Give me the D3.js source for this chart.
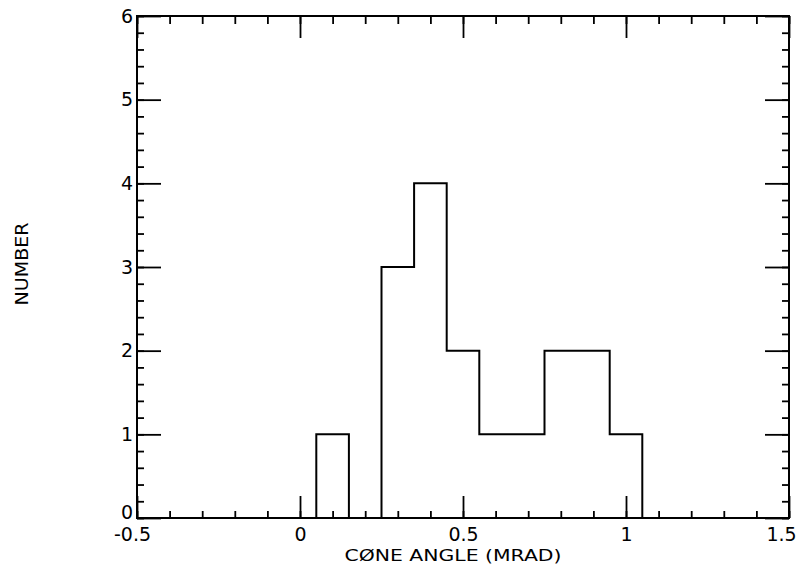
<!DOCTYPE html>
<html>
<head>
<meta charset="utf-8">
<script src="https://cdn.jsdelivr.net/npm/d3@7"></script>
<style>
  body { margin: 0; background: #fff; }
  text { font-family: "DejaVu Sans", sans-serif; fill: #000; }
</style>
</head>
<body>
<svg id="chart" width="803" height="573"></svg>
<script>
// bin edges (mrad) and counts per bin
var binEdges = [0.05, 0.15, 0.25, 0.35, 0.45, 0.55, 0.65, 0.75, 0.85, 0.95, 1.05];
var binCounts = [1, 0, 3, 4, 2, 1, 1, 2, 2, 1];

var xTickValues = [-0.5, 0, 0.5, 1, 1.5];
var xTickLabels = ["-0.5", "0", "0.5", "1", "1.5"];
var yTickValues = [0, 1, 2, 3, 4, 5, 6];

var xTitle = "C\u00d8NE ANGLE (MRAD)";
var yTitle = "NUMBER";

var margin = {top: 16, right: 14, bottom: 55, left: 137};
var width = 803 - margin.left - margin.right;
var height = 573 - margin.top - margin.bottom;

var svg = d3.select("#chart");
var g = svg.append("g").attr("transform", "translate(" + margin.left + "," + margin.top + ")");

var x = d3.scaleLinear().domain([-0.5, 1.5]).range([0, width]);
var y = d3.scaleLinear().domain([0, 6]).range([height, 0]);

var xMinor = d3.range(-5, 16).map(function(i) { return i / 10; });
var yMinor = d3.range(0, 31).map(function(i) { return i / 5; });

function styleAxis(sel) {
    sel.select(".domain").remove();
    sel.selectAll("line").attr("stroke", "#000").attr("stroke-width", 1.8);
}

// bottom axis: minor + major ticks pointing inward
g.append("g").attr("transform", "translate(0," + height + ")")
    .call(d3.axisBottom(x).tickValues(xMinor).tickSize(-7).tickFormat(""))
    .call(styleAxis);
var bottom = g.append("g").attr("transform", "translate(0," + height + ")")
    .call(d3.axisBottom(x).tickValues(xTickValues).tickSize(-22)
        .tickFormat(function(d, i) { return xTickLabels[i]; }))
    .call(styleAxis);
bottom.selectAll("text")
    .attr("font-size", 19)
    .attr("y", 23)
    .attr("dy", 0)
    .attr("dx", function(d, i) { return i === 0 ? -5 : (i === xTickLabels.length - 1 ? -8 : 0); });

// top axis
g.append("g")
    .call(d3.axisTop(x).tickValues(xMinor).tickSize(-8).tickFormat(""))
    .call(styleAxis);
g.append("g")
    .call(d3.axisTop(x).tickValues(xTickValues).tickSize(-22).tickFormat(""))
    .call(styleAxis);

// left axis
g.append("g")
    .call(d3.axisLeft(y).tickValues(yMinor).tickSize(-7).tickFormat(""))
    .call(styleAxis);
var left = g.append("g")
    .call(d3.axisLeft(y).tickValues(yTickValues).tickSize(-24).tickFormat(d3.format("d")))
    .call(styleAxis);
left.selectAll("text")
    .attr("font-size", 19)
    .attr("x", -4)
    .attr("dy", function(d) { return d === 0 ? "0.05em" : "0.32em"; });

// right axis
g.append("g").attr("transform", "translate(" + width + ",0)")
    .call(d3.axisRight(y).tickValues(yMinor).tickSize(-7).tickFormat(""))
    .call(styleAxis);
g.append("g").attr("transform", "translate(" + width + ",0)")
    .call(d3.axisRight(y).tickValues(yTickValues).tickSize(-24).tickFormat(""))
    .call(styleAxis);

// frame
g.append("rect")
    .attr("x", 0).attr("y", 0)
    .attr("width", width).attr("height", height)
    .attr("fill", "none")
    .attr("stroke", "#000")
    .attr("stroke-width", 2);

// histogram outline
var pts = [[binEdges[0], 0]];
binCounts.forEach(function(c, i) { pts.push([binEdges[i], c]); });
pts.push([binEdges[binEdges.length - 1], 0]);

var step = d3.line()
    .x(function(d) { return x(d[0]); })
    .y(function(d) { return y(d[1]); })
    .curve(d3.curveStepAfter);

g.append("path")
    .datum(pts)
    .attr("d", step)
    .attr("fill", "none")
    .attr("stroke", "#000")
    .attr("stroke-width", 2);

// axis titles
svg.append("text")
    .attr("x", 453)
    .attr("y", 561)
    .attr("text-anchor", "middle")
    .attr("font-size", 16)
    .attr("textLength", 217)
    .attr("lengthAdjust", "spacingAndGlyphs")
    .text(xTitle);

svg.append("text")
    .attr("transform", "translate(28,264) rotate(-90)")
    .attr("text-anchor", "middle")
    .attr("font-size", 17)
    .attr("textLength", 83)
    .attr("lengthAdjust", "spacingAndGlyphs")
    .text(yTitle);
</script>
</body>
</html>
